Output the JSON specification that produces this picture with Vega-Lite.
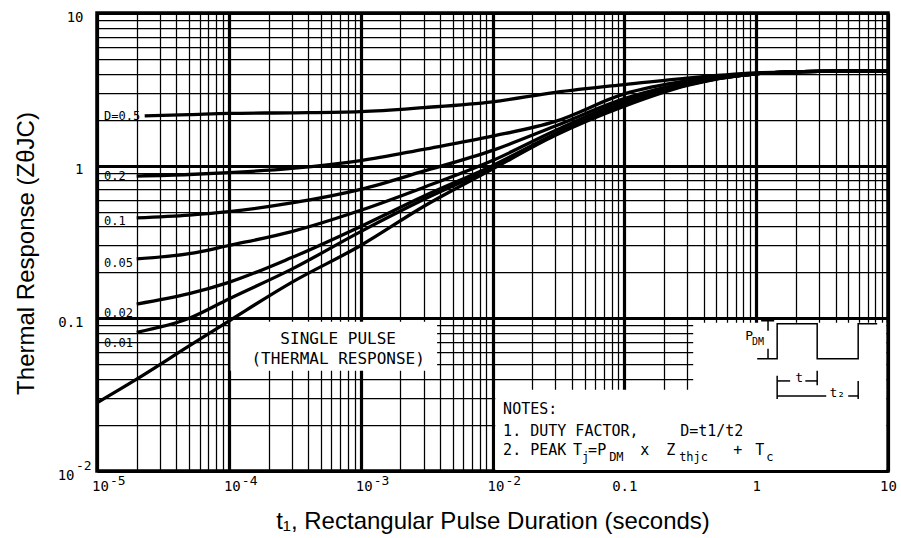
{
  "$schema": "https://vega.github.io/schema/vega-lite/v6.json",
  "width": 791,
  "height": 458,
  "autosize": {"type": "none"},
  "padding": {"left": 97, "top": 13, "right": 13, "bottom": 67},
  "background": "white",
  "config": {
    "view": {"stroke": "#000", "strokeWidth": 3.5},
    "axis": {"domain": false, "ticks": false, "grid": true, "gridColor": "#000", "labelColor": "#000", "titleColor": "#000", "labelOverlap": false, "labelFlush": false}
  },
  "datasets": {
    "masks": [
      {"t": 0.000103, "t2": 0.0038, "z": 0.0453, "z2": 0.095},
      {"t": 0.0105, "t2": 9.68, "z": 0.01014, "z2": 0.034},
      {"t": 0.333, "t2": 9.68, "z": 0.0335, "z2": 0.0935}
    ],
    "curves": [
      {"D": "0.5", "t": 0.000023, "z": 2.12}, {"D": "0.5", "t": 0.00005, "z": 2.16}, {"D": "0.5", "t": 0.0001, "z": 2.2}, {"D": "0.5", "t": 0.0003, "z": 2.22}, {"D": "0.5", "t": 0.001, "z": 2.26}, {"D": "0.5", "t": 0.003, "z": 2.4}, {"D": "0.5", "t": 0.01, "z": 2.62}, {"D": "0.5", "t": 0.03, "z": 3.02}, {"D": "0.5", "t": 0.1, "z": 3.4}, {"D": "0.5", "t": 0.3, "z": 3.75}, {"D": "0.5", "t": 1, "z": 4.05}, {"D": "0.5", "t": 3, "z": 4.15}, {"D": "0.5", "t": 10, "z": 4.18},
      {"D": "0.2", "t": 0.00002, "z": 0.855}, {"D": "0.2", "t": 0.00005, "z": 0.875}, {"D": "0.2", "t": 0.0001, "z": 0.9}, {"D": "0.2", "t": 0.0003, "z": 0.96}, {"D": "0.2", "t": 0.001, "z": 1.08}, {"D": "0.2", "t": 0.003, "z": 1.28}, {"D": "0.2", "t": 0.01, "z": 1.56}, {"D": "0.2", "t": 0.03, "z": 1.95}, {"D": "0.2", "t": 0.1, "z": 2.95}, {"D": "0.2", "t": 0.3, "z": 3.6}, {"D": "0.2", "t": 1, "z": 4.02}, {"D": "0.2", "t": 3, "z": 4.15}, {"D": "0.2", "t": 10, "z": 4.18},
      {"D": "0.1", "t": 0.00002, "z": 0.455}, {"D": "0.1", "t": 0.00005, "z": 0.475}, {"D": "0.1", "t": 0.0001, "z": 0.5}, {"D": "0.1", "t": 0.0003, "z": 0.57}, {"D": "0.1", "t": 0.001, "z": 0.7}, {"D": "0.1", "t": 0.003, "z": 0.92}, {"D": "0.1", "t": 0.01, "z": 1.26}, {"D": "0.1", "t": 0.03, "z": 1.82}, {"D": "0.1", "t": 0.1, "z": 2.75}, {"D": "0.1", "t": 0.3, "z": 3.5}, {"D": "0.1", "t": 1, "z": 4.0}, {"D": "0.1", "t": 3, "z": 4.15}, {"D": "0.1", "t": 10, "z": 4.18},
      {"D": "0.05", "t": 0.00002, "z": 0.245}, {"D": "0.05", "t": 0.00005, "z": 0.265}, {"D": "0.05", "t": 0.0001, "z": 0.3}, {"D": "0.05", "t": 0.0003, "z": 0.37}, {"D": "0.05", "t": 0.001, "z": 0.51}, {"D": "0.05", "t": 0.003, "z": 0.72}, {"D": "0.05", "t": 0.01, "z": 1.08}, {"D": "0.05", "t": 0.03, "z": 1.7}, {"D": "0.05", "t": 0.1, "z": 2.65}, {"D": "0.05", "t": 0.3, "z": 3.45}, {"D": "0.05", "t": 1, "z": 4.0}, {"D": "0.05", "t": 3, "z": 4.15}, {"D": "0.05", "t": 10, "z": 4.18},
      {"D": "0.02", "t": 0.00002, "z": 0.124}, {"D": "0.02", "t": 0.00005, "z": 0.145}, {"D": "0.02", "t": 0.0001, "z": 0.172}, {"D": "0.02", "t": 0.0003, "z": 0.25}, {"D": "0.02", "t": 0.001, "z": 0.4}, {"D": "0.02", "t": 0.003, "z": 0.63}, {"D": "0.02", "t": 0.01, "z": 1.0}, {"D": "0.02", "t": 0.03, "z": 1.62}, {"D": "0.02", "t": 0.1, "z": 2.55}, {"D": "0.02", "t": 0.3, "z": 3.4}, {"D": "0.02", "t": 1, "z": 4.0}, {"D": "0.02", "t": 3, "z": 4.15}, {"D": "0.02", "t": 10, "z": 4.18},
      {"D": "0.01", "t": 0.00002, "z": 0.081}, {"D": "0.01", "t": 0.00005, "z": 0.1}, {"D": "0.01", "t": 0.0001, "z": 0.134}, {"D": "0.01", "t": 0.0003, "z": 0.21}, {"D": "0.01", "t": 0.001, "z": 0.37}, {"D": "0.01", "t": 0.003, "z": 0.6}, {"D": "0.01", "t": 0.01, "z": 0.97}, {"D": "0.01", "t": 0.03, "z": 1.6}, {"D": "0.01", "t": 0.1, "z": 2.5}, {"D": "0.01", "t": 0.3, "z": 3.38}, {"D": "0.01", "t": 1, "z": 4.0}, {"D": "0.01", "t": 3, "z": 4.15}, {"D": "0.01", "t": 10, "z": 4.18},
      {"D": "single", "t": 0.00001, "z": 0.028}, {"D": "single", "t": 0.00002, "z": 0.04}, {"D": "single", "t": 0.00005, "z": 0.066}, {"D": "single", "t": 0.0001, "z": 0.096}, {"D": "single", "t": 0.0003, "z": 0.172}, {"D": "single", "t": 0.001, "z": 0.3}, {"D": "single", "t": 0.003, "z": 0.54}, {"D": "single", "t": 0.01, "z": 0.95}, {"D": "single", "t": 0.03, "z": 1.58}, {"D": "single", "t": 0.1, "z": 2.45}, {"D": "single", "t": 0.3, "z": 3.35}, {"D": "single", "t": 1, "z": 4.0}, {"D": "single", "t": 3, "z": 4.15}, {"D": "single", "t": 10, "z": 4.18}
    ],
    "pulse": [
      {"seg": "wave", "i": 0, "t": 1.018, "z": 0.0543}, {"seg": "wave", "i": 1, "t": 1.443, "z": 0.0543}, {"seg": "wave", "i": 2, "t": 1.443, "z": 0.0921}, {"seg": "wave", "i": 3, "t": 2.903, "z": 0.0921}, {"seg": "wave", "i": 4, "t": 2.903, "z": 0.0543}, {"seg": "wave", "i": 5, "t": 5.94, "z": 0.0543}, {"seg": "wave", "i": 6, "t": 5.94, "z": 0.0921}, {"seg": "wave", "i": 7, "t": 8.28, "z": 0.0921},
      {"seg": "top", "i": 0, "t": 1.09, "z": 0.0964}, {"seg": "top", "i": 1, "t": 1.37, "z": 0.0964},
      {"seg": "pdm1", "i": 0, "t": 1.23, "z": 0.0964}, {"seg": "pdm1", "i": 1, "t": 1.23, "z": 0.083},
      {"seg": "pdm2", "i": 0, "t": 1.23, "z": 0.0632}, {"seg": "pdm2", "i": 1, "t": 1.23, "z": 0.0543},
      {"seg": "t1a", "i": 0, "t": 1.443, "z": 0.0389}, {"seg": "t1a", "i": 1, "t": 1.81, "z": 0.0389},
      {"seg": "t1b", "i": 0, "t": 2.36, "z": 0.0389}, {"seg": "t1b", "i": 1, "t": 2.903, "z": 0.0389},
      {"seg": "t2a", "i": 0, "t": 1.443, "z": 0.031}, {"seg": "t2a", "i": 1, "t": 3.4, "z": 0.031},
      {"seg": "t2b", "i": 0, "t": 4.99, "z": 0.031}, {"seg": "t2b", "i": 1, "t": 5.94, "z": 0.031},
      {"seg": "v1", "i": 0, "t": 1.443, "z": 0.042}, {"seg": "v1", "i": 1, "t": 1.443, "z": 0.02965},
      {"seg": "v2", "i": 0, "t": 2.903, "z": 0.0453}, {"seg": "v2", "i": 1, "t": 2.903, "z": 0.0364},
      {"seg": "v3", "i": 0, "t": 5.94, "z": 0.0389}, {"seg": "v3", "i": 1, "t": 5.94, "z": 0.02965}
    ],
    "labels": [
      {"kind": "curve", "txt": "D=0.5", "t": 0.0000113, "z": 2.12},
      {"kind": "curve", "txt": "0.2", "t": 0.0000113, "z": 0.85},
      {"kind": "curve", "txt": "0.1", "t": 0.0000113, "z": 0.437},
      {"kind": "curve", "txt": "0.05", "t": 0.0000113, "z": 0.229},
      {"kind": "curve", "txt": "0.02", "t": 0.0000113, "z": 0.109},
      {"kind": "curve", "txt": "0.01", "t": 0.0000113, "z": 0.069},
      {"kind": "box", "txt": "SINGLE PULSE", "t": 0.000675, "z": 0.0734},
      {"kind": "box", "txt": "(THERMAL RESPONSE)", "t": 0.000675, "z": 0.0543},
      {"kind": "note", "txt": "NOTES:", "t": 0.012035, "z": 0.02547},
      {"kind": "note", "txt": "1. DUTY FACTOR,", "t": 0.012035, "z": 0.01828},
      {"kind": "note", "txt": "D=t1/t2", "t": 0.2651, "z": 0.01828},
      {"kind": "note", "txt": "2. PEAK", "t": 0.012035, "z": 0.01371},
      {"kind": "note", "txt": "T", "t": 0.04088, "z": 0.01371},
      {"kind": "note", "txt": "=P", "t": 0.05313, "z": 0.01371},
      {"kind": "note", "txt": "x", "t": 0.1318, "z": 0.01371},
      {"kind": "note", "txt": "Z", "t": 0.2076, "z": 0.01371},
      {"kind": "note", "txt": "+", "t": 0.669, "z": 0.01371},
      {"kind": "note", "txt": "T", "t": 0.9826, "z": 0.01371},
      {"kind": "sub", "txt": "j", "t": 0.04783, "z": 0.01233},
      {"kind": "sub", "txt": "DM", "t": 0.07668, "z": 0.01233},
      {"kind": "sub", "txt": "thjc", "t": 0.2604, "z": 0.01233},
      {"kind": "sub", "txt": "c", "t": 1.191, "z": 0.01233},
      {"kind": "pulse", "txt": "P", "t": 0.825, "z": 0.0769},
      {"kind": "psub", "txt": "DM", "t": 0.93, "z": 0.0702},
      {"kind": "pulse", "txt": "t", "t": 1.98, "z": 0.0407},
      {"kind": "pulse", "txt": "t₂", "t": 3.6, "z": 0.0324},
      {"kind": "exp", "txt": "-5", "t": 0.00001255, "z": 0.00855},
      {"kind": "exp", "txt": "-4", "t": 0.0001255, "z": 0.00855},
      {"kind": "exp", "txt": "-3", "t": 0.001255, "z": 0.00855},
      {"kind": "exp", "txt": "-2", "t": 0.01255, "z": 0.00855},
      {"kind": "exp", "txt": "-2", "t": 0.00000693, "z": 0.01085}
    ]
  },
  "layer": [
    {
      "data": {"name": "masks"},
      "mark": {"type": "rect", "fill": "white", "stroke": null},
      "encoding": {
        "x": {
          "field": "t", "type": "quantitative",
          "scale": {"type": "log", "domain": [0.00001, 10], "nice": false},
          "axis": {
            "values": [0.00001,0.00002,0.00003,0.00004,0.00005,0.00006,0.00007,0.00008,0.00009,0.0001,0.0002,0.0003,0.0004,0.0005,0.0006,0.0007,0.0008,0.0009,0.001,0.002,0.003,0.004,0.005,0.006,0.007,0.008,0.009,0.01,0.02,0.03,0.04,0.05,0.06,0.07,0.08,0.09,0.1,0.2,0.3,0.4,0.5,0.6,0.7,0.8,0.9,1,2,3,4,5,6,7,8,9,10],
            "gridWidth": {"condition": {"test": "abs(log(datum.value)/LN10 - round(log(datum.value)/LN10)) < 0.001", "value": 3.2}, "value": 1.25},
            "labelExpr": "abs(log(datum.value)/LN10 - round(log(datum.value)/LN10)) > 0.001 ? '' : round(log(datum.value)/LN10) == -1 ? '0.1' : round(log(datum.value)/LN10) == 0 ? '1' : '10'",
            "labelFont": "DejaVu Sans Mono",
            "labelFontSize": 14,
            "labelPadding": 8,
            "labelOffset": {"condition": {"test": "datum.value < 0.05", "value": 3}, "value": 0},
            "title": "t₁, Rectangular Pulse Duration (seconds)",
            "titleFont": "Liberation Sans",
            "titleFontSize": 24,
            "titleFontWeight": "normal",
            "titleY": 57,
            "titleBaseline": "alphabetic"
          }
        },
        "x2": {"field": "t2"},
        "y": {
          "field": "z", "type": "quantitative",
          "scale": {"type": "log", "domain": [0.01, 10], "nice": false},
          "axis": {
            "values": [0.01,0.02,0.03,0.04,0.05,0.06,0.07,0.08,0.09,0.1,0.2,0.3,0.4,0.5,0.6,0.7,0.8,0.9,1,2,3,4,5,6,7,8,9,10],
            "gridWidth": {"condition": {"test": "abs(log(datum.value)/LN10 - round(log(datum.value)/LN10)) < 0.001", "value": 3.2}, "value": 1.25},
            "labelExpr": "abs(log(datum.value)/LN10 - round(log(datum.value)/LN10)) > 0.001 ? '' : round(log(datum.value)/LN10) == -2 ? '10' : round(log(datum.value)/LN10) == -1 ? '0.1' : round(log(datum.value)/LN10) == 0 ? '1' : '10'",
            "labelFont": "DejaVu Sans Mono",
            "labelFontSize": 14,
            "labelPadding": {"condition": {"test": "datum.value < 0.05", "value": 23}, "value": 14},
            "labelOffset": 4,
            "title": "Thermal Response (ZθJC)",
            "titleFont": "Liberation Sans",
            "titleFontSize": 24,
            "titleFontWeight": "normal",
            "titleX": -64,
            "titleY": 240,
            "titleBaseline": "alphabetic"
          }
        },
        "y2": {"field": "z2"}
      }
    },
    {
      "data": {"name": "curves"},
      "mark": {"type": "line", "stroke": "#000", "strokeWidth": 3.3, "interpolate": "monotone"},
      "encoding": {
        "x": {"field": "t", "type": "quantitative"},
        "y": {"field": "z", "type": "quantitative"},
        "detail": {"field": "D"}
      }
    },
    {
      "data": {"name": "pulse"},
      "mark": {"type": "line", "stroke": "#000", "strokeWidth": 1.5},
      "encoding": {
        "x": {"field": "t", "type": "quantitative"},
        "y": {"field": "z", "type": "quantitative"},
        "detail": {"field": "seg"},
        "order": {"field": "i"}
      }
    },
    {
      "data": {"name": "labels"},
      "transform": [{"filter": "datum.kind == 'curve'"}],
      "mark": {"type": "text", "font": "DejaVu Sans Mono", "fontSize": 12, "align": "left", "baseline": "middle", "fill": "#000"},
      "encoding": {
        "x": {"field": "t", "type": "quantitative"},
        "y": {"field": "z", "type": "quantitative"},
        "text": {"field": "txt"}
      }
    },
    {
      "data": {"name": "labels"},
      "transform": [{"filter": "datum.kind == 'box'"}],
      "mark": {"type": "text", "font": "DejaVu Sans Mono", "fontSize": 16, "align": "center", "baseline": "middle", "fill": "#000"},
      "encoding": {
        "x": {"field": "t", "type": "quantitative"},
        "y": {"field": "z", "type": "quantitative"},
        "text": {"field": "txt"}
      }
    },
    {
      "data": {"name": "labels"},
      "transform": [{"filter": "datum.kind == 'note'"}],
      "mark": {"type": "text", "font": "DejaVu Sans Mono", "fontSize": 15, "align": "left", "baseline": "middle", "fill": "#000"},
      "encoding": {
        "x": {"field": "t", "type": "quantitative"},
        "y": {"field": "z", "type": "quantitative"},
        "text": {"field": "txt"}
      }
    },
    {
      "data": {"name": "labels"},
      "transform": [{"filter": "datum.kind == 'sub'"}],
      "mark": {"type": "text", "font": "DejaVu Sans Mono", "fontSize": 12, "align": "left", "baseline": "middle", "fill": "#000"},
      "encoding": {
        "x": {"field": "t", "type": "quantitative"},
        "y": {"field": "z", "type": "quantitative"},
        "text": {"field": "txt"}
      }
    },
    {
      "data": {"name": "labels"},
      "transform": [{"filter": "datum.kind == 'pulse'"}],
      "mark": {"type": "text", "font": "DejaVu Sans Mono", "fontSize": 13, "align": "left", "baseline": "middle", "fill": "#000"},
      "encoding": {
        "x": {"field": "t", "type": "quantitative"},
        "y": {"field": "z", "type": "quantitative"},
        "text": {"field": "txt"}
      }
    },
    {
      "data": {"name": "labels"},
      "transform": [{"filter": "datum.kind == 'psub'"}],
      "mark": {"type": "text", "font": "DejaVu Sans Mono", "fontSize": 10, "align": "left", "baseline": "middle", "fill": "#000"},
      "encoding": {
        "x": {"field": "t", "type": "quantitative"},
        "y": {"field": "z", "type": "quantitative"},
        "text": {"field": "txt"}
      }
    },
    {
      "data": {"name": "labels"},
      "transform": [{"filter": "datum.kind == 'exp'"}],
      "mark": {"type": "text", "font": "DejaVu Sans Mono", "fontSize": 13, "align": "left", "baseline": "middle", "fill": "#000"},
      "encoding": {
        "x": {"field": "t", "type": "quantitative"},
        "y": {"field": "z", "type": "quantitative"},
        "text": {"field": "txt"}
      }
    }
  ]
}
